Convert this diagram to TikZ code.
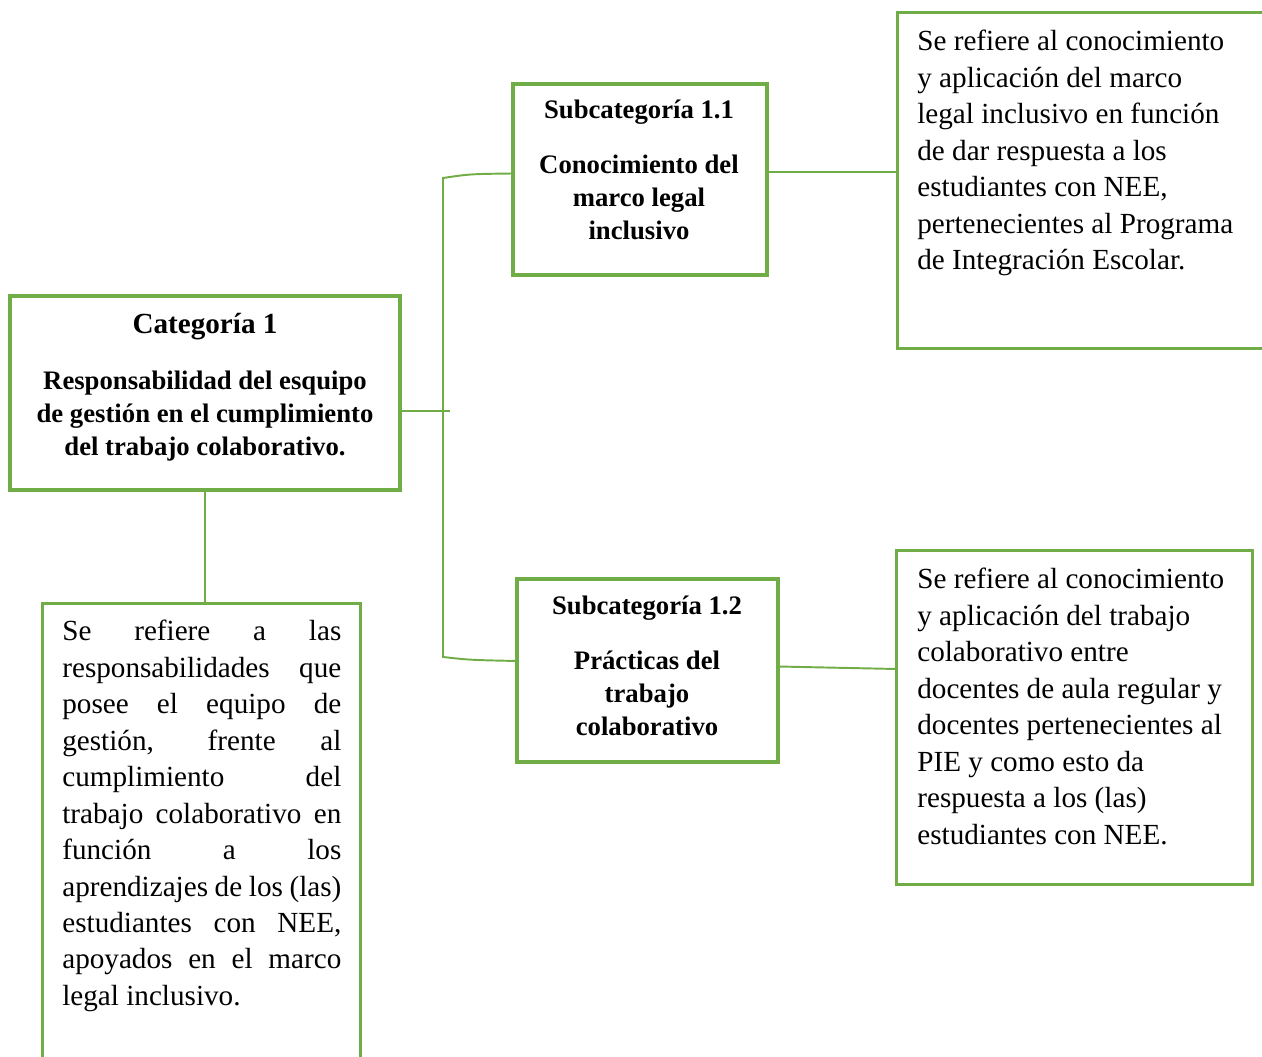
\documentclass[tikz,border=0pt]{standalone}
\usepackage{fontspec}
\setmainfont{Liberation Serif}
\usetikzlibrary{calc}

\definecolor{leafgreen}{HTML}{70AD47}

\begin{document}
\begin{tikzpicture}[x=0.02cm,y=-0.02cm]
    \tikzstyle{frame}=[draw=leafgreen,line width=2.3pt,rectangle,inner sep=0pt,outer sep=0pt]
    \tikzstyle{note}=[draw=leafgreen,line width=1.6pt,rectangle,inner sep=0pt,outer sep=0pt]
    \tikzstyle{edge}=[draw=leafgreen,line width=1.1pt,-]

    \tikzstyle{title}=[inner sep=0pt,font=\fontsize{16.6}{20}\selectfont\bfseries]
    \tikzstyle{head}=[inner sep=0pt,align=center,font=\fontsize{15.2}{18.7}\selectfont\bfseries]
    \tikzstyle{body}=[inner sep=0pt,align=left,font=\fontsize{16.6}{20.75}\selectfont]

    \def\px{0.02cm}

    \clip (0,0) rectangle (1262,1057);

    % boxes
    \node[frame,minimum width=390*\px,minimum height=194*\px] (cat)    at (205,393)     {};
    \node[frame,minimum width=254*\px,minimum height=191*\px] (sub11)  at (640,179.5)   {};
    \node[frame,minimum width=261*\px,minimum height=183*\px] (sub12)  at (647.5,670.5) {};
    \node[note, minimum width=367*\px,minimum height=336*\px] (info11) at (1081,180.5)  {};
    \node[note, minimum width=356*\px,minimum height=334*\px] (info12) at (1074.5,717.5) {};
    \node[note, minimum width=318*\px,minimum height=500*\px] (info1)  at (201.5,853.5) {};

    % titles
    \node[title,anchor=base] (cattitle) at (205,334) {Categoría 1};
    \node[head,anchor=north] (catname)  at (205,371)
        {Responsabilidad del esquipo\\de gestión en el cumplimiento\\del trabajo colaborativo.};

    \node[head,anchor=base]  (sub11title) at (639,119) {Subcategoría 1.1};
    \node[head,anchor=north] (sub11name)  at (639,155) {Conocimiento del\\marco legal\\inclusivo};

    \node[head,anchor=base]  (sub12title) at (647,615) {Subcategoría 1.2};
    \node[head,anchor=north] (sub12name)  at (647,651) {Prácticas del\\trabajo\\colaborativo};

    % descriptions
    \node[body,anchor=north west] (info11text) at (917,30)
        {Se refiere al conocimiento\\y aplicación del marco\\legal inclusivo en función\\de dar respuesta a los\\estudiantes con NEE,\\pertenecientes al Programa\\de Integración Escolar.};
    \node[body,anchor=north west] (info12text) at (917,568)
        {Se refiere al conocimiento\\y aplicación del trabajo\\colaborativo entre\\docentes de aula regular y\\docentes pertenecientes al\\PIE y como esto da\\respuesta a los (las)\\estudiantes con NEE.};
    \node[body,align=justify,text width=279*\px,anchor=north west] (info1text) at (62,620)
        {\tolerance=10000\hyphenpenalty=10000 Se refiere a las\linebreak responsabilidades que\linebreak posee el equipo de\linebreak gestión, frente al\linebreak cumplimiento del\linebreak trabajo colaborativo en\linebreak función a los\linebreak aprendizajes de los (las)\linebreak estudiantes con NEE,\linebreak apoyados en el marco\linebreak legal inclusivo.};

    % connectors
    \coordinate (fork)    at (450,411);
    \coordinate (forktop) at (443,178);
    \coordinate (forkbot) at (443,657);

    \path[edge] (cat.east |- fork) -- (fork);
    \path[edge] ($(sub11.west)+(0,-6)$) .. controls (470,174) .. (forktop) -- (forkbot)
        .. controls (470,660) .. ($(sub12.west)+(0,-9.5)$);
    \path[edge] ($(sub11.east)+(0,-7.5)$) -- ($(info11.west)+(0,-8.5)$);
    \path[edge] ($(sub12.east)+(0,-4)$) -- ($(info12.west)+(0,-48.5)$);
    \path[edge] (cat.south) -- (cat.south |- info1.north);
\end{tikzpicture}
\end{document}
